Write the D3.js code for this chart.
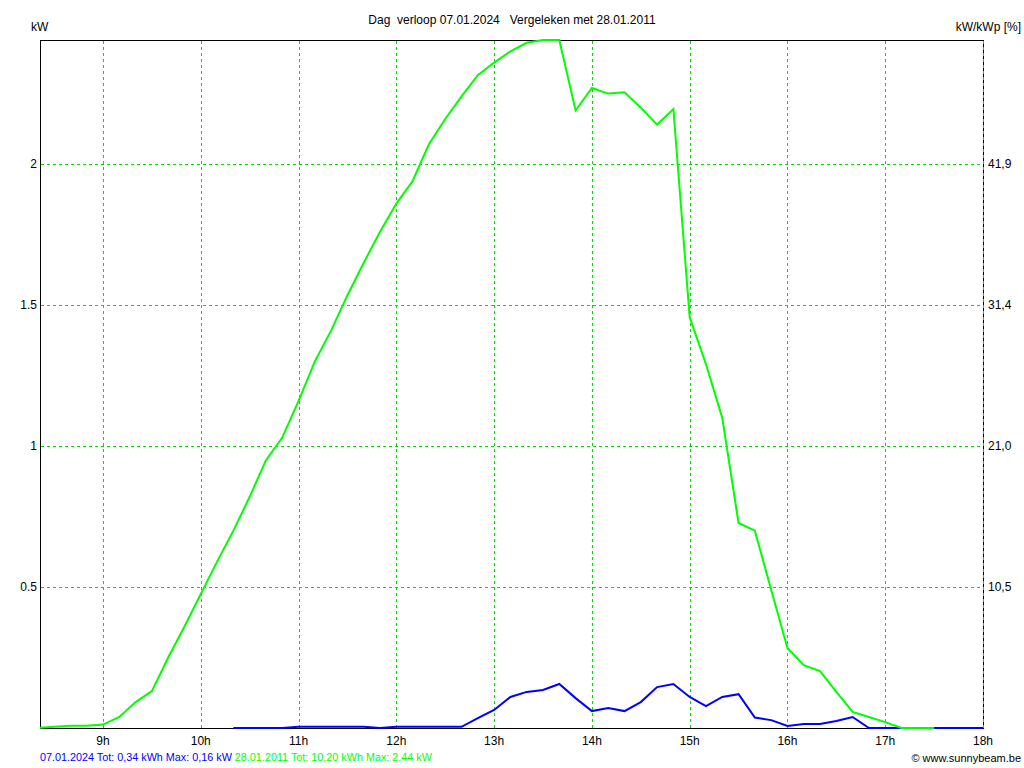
<!DOCTYPE html>
<meta charset="utf-8">
<script src="https://d3js.org/d3.v7.min.js"></script>
<style>
  body { margin: 0; background: #fff; }
  text { font-family: "Liberation Sans", Arial, sans-serif; white-space: pre; }
</style>
<div id="my_dataviz"></div>
<script>

  // 10-minute samples, kW
  var greenTimes = ["08:20", "08:30", "08:40", "08:50", "09:00", "09:10", "09:20", "09:30", "09:40", "09:50",
    "10:00", "10:10", "10:20", "10:30", "10:40", "10:50", "11:00", "11:10", "11:20", "11:30", "11:40", "11:50",
    "12:00", "12:10", "12:20", "12:30", "12:40", "12:50", "13:00", "13:10", "13:20", "13:30", "13:40", "13:50",
    "14:00", "14:10", "14:20", "14:30", "14:40", "14:50", "15:00", "15:10", "15:20", "15:30", "15:40", "15:50",
    "16:00", "16:10", "16:20", "16:30", "16:40", "16:50", "17:00", "17:10", "17:20", "17:30"];
  var greenKW = [0, 0.004, 0.008, 0.008, 0.012, 0.039, 0.092, 0.131, 0.25, 0.36,
    0.475, 0.59, 0.70, 0.82, 0.95, 1.03, 1.16, 1.30, 1.41, 1.535, 1.65, 1.76,
    1.86, 1.94, 2.07, 2.16, 2.24, 2.315, 2.36, 2.40, 2.43, 2.44, 2.44, 2.19,
    2.27, 2.25, 2.255, 2.20, 2.14, 2.195, 1.457, 1.29, 1.10, 0.727, 0.70, 0.49,
    0.284, 0.223, 0.202, 0.128, 0.057, 0.039, 0.021, 0, 0, 0];

  var blueTimes = ["10:20", "10:30", "10:40", "10:50", "11:00", "11:10", "11:20", "11:30", "11:40", "11:50",
    "12:00", "12:10", "12:20", "12:30", "12:40", "12:50", "13:00", "13:10", "13:20", "13:30", "13:40", "13:50",
    "14:00", "14:10", "14:20", "14:30", "14:40", "14:50", "15:00", "15:10", "15:20", "15:30", "15:40", "15:50",
    "16:00", "16:10", "16:20", "16:30", "16:40", "16:50", "17:00", "17:10", "17:20", "17:30", "17:40", "17:50", "18:00"];
  var blueKW = [0, 0, 0, 0, 0.004, 0.004, 0.004, 0.004, 0.004, 0,
    0.004, 0.004, 0.004, 0.004, 0.004, 0.035, 0.064, 0.11, 0.128, 0.135, 0.156, 0.106,
    0.06, 0.071, 0.06, 0.092, 0.145, 0.156, 0.11, 0.078, 0.11, 0.12, 0.037, 0.028,
    0.007, 0.014, 0.014, 0.025, 0.039, 0, 0, 0, 0, 0, 0, 0, 0];

  var hourTicks = [9, 10, 11, 12, 13, 14, 15, 16, 17, 18];
  var kwTicks = [0.5, 1, 1.5, 2];
  var kwLabels = ["0.5", "1", "1.5", "2"];
  var pctLabels = ["10,5", "21,0", "31,4", "41,9"];

  var title = "Dag  verloop 07.01.2024   Vergeleken met 28.01.2011";
  var blueLegend = "07.01.2024 Tot: 0,34 kWh Max: 0,16 kW";
  var greenLegend = "28.01.2011 Tot: 10,20 kWh Max: 2,44 kW";

  (function () {
    var width = 1024, height = 768;
    var margin = { top: 40, right: 41, bottom: 40, left: 40 };

    var svg = d3.select("#my_dataviz")
      .append("svg")
      .attr("width", width)
      .attr("height", height);

    function toHours(t) {
      var p = t.split(":");
      return +p[0] + (+p[1]) / 60;
    }

    var x = d3.scaleLinear()
      .domain([8.3555, 18])
      .range([margin.left, width - margin.right]);

    var y = d3.scaleLinear()
      .domain([0, 2.44])
      .range([height - margin.bottom, margin.top]);

    var x0 = margin.left, x1 = width - margin.right;
    var y0 = margin.top, y1 = height - margin.bottom;

    // clip
    svg.append("clipPath").attr("id", "plotclip")
      .append("rect")
      .attr("x", x0).attr("y", y0 - 2)
      .attr("width", x1 - x0).attr("height", y1 - y0 + 3);

    // frame
    svg.append("rect")
      .attr("x", x0 + 0.5).attr("y", y0 + 0.5)
      .attr("width", x1 - x0).attr("height", y1 - y0)
      .attr("fill", "none")
      .attr("stroke", "#000")
      .attr("stroke-width", 1);

    // grid
    svg.append("g").selectAll("line")
      .data(hourTicks)
      .enter().append("line")
      .attr("x1", d => Math.round(x(d)) + 0.5)
      .attr("x2", d => Math.round(x(d)) + 0.5)
      .attr("y1", y0 + 1)
      .attr("y2", y1)
      .attr("stroke", "#00e000")
      .attr("stroke-dasharray", "3,3");

    svg.append("g").selectAll("line")
      .data(kwTicks)
      .enter().append("line")
      .attr("x1", x0 + 1)
      .attr("x2", x1)
      .attr("y1", d => Math.round(y(d)) + 0.5)
      .attr("y2", d => Math.round(y(d)) + 0.5)
      .attr("stroke", "#00e000")
      .attr("stroke-dasharray", "3,3");

    // lines
    var line = d3.line()
      .x(d => x(d.t))
      .y(d => y(d.v));

    var blueData = blueTimes.map((t, i) => ({ t: toHours(t), v: blueKW[i] }));
    var greenData = greenTimes.map((t, i) => ({ t: toHours(t), v: greenKW[i] }));

    var plot = svg.append("g").attr("clip-path", "url(#plotclip)");

    plot.append("path")
      .datum(blueData)
      .attr("d", line)
      .attr("fill", "none")
      .attr("stroke", "#0000ff")
      .attr("stroke-width", 2);

    plot.append("path")
      .datum(greenData)
      .attr("d", line)
      .attr("fill", "none")
      .attr("stroke", "#00ff00")
      .attr("stroke-width", 2);

    // axis labels
    svg.append("g").selectAll("text")
      .data(hourTicks)
      .enter().append("text")
      .attr("x", d => x(d))
      .attr("y", y1 + 17)
      .attr("text-anchor", "middle")
      .style("font-size", "12px")
      .text(d => d + "h");

    svg.append("g").selectAll("text")
      .data(kwTicks)
      .enter().append("text")
      .attr("x", x0 - 3)
      .attr("y", d => y(d) + 4)
      .attr("text-anchor", "end")
      .style("font-size", "12px")
      .text((d, i) => kwLabels[i]);

    svg.append("g").selectAll("text")
      .data(kwTicks)
      .enter().append("text")
      .attr("x", x1 + 5)
      .attr("y", d => y(d) + 4)
      .style("font-size", "12px")
      .text((d, i) => pctLabels[i]);

    svg.append("text")
      .attr("x", 31).attr("y", 31)
      .style("font-size", "12px")
      .text("kW");

    svg.append("text")
      .attr("x", 1021).attr("y", 31)
      .attr("text-anchor", "end")
      .style("font-size", "12px")
      .text("kW/kWp [%]");

    svg.append("text")
      .attr("x", 512).attr("y", 24)
      .attr("text-anchor", "middle")
      .style("font-size", "12px")
      .text(title);

    // footer legend
    var legend = svg.append("text")
      .attr("x", 40).attr("y", 761)
      .style("font-size", "10.8px");
    legend.append("tspan").attr("fill", "#0000ff").text(blueLegend + " ");
    legend.append("tspan").attr("fill", "#00ff00").text(greenLegend);

    svg.append("text")
      .attr("x", 1021).attr("y", 762)
      .attr("text-anchor", "end")
      .style("font-size", "11px")
      .text("\u00a9 www.sunnybeam.be");
  })();

</script>
